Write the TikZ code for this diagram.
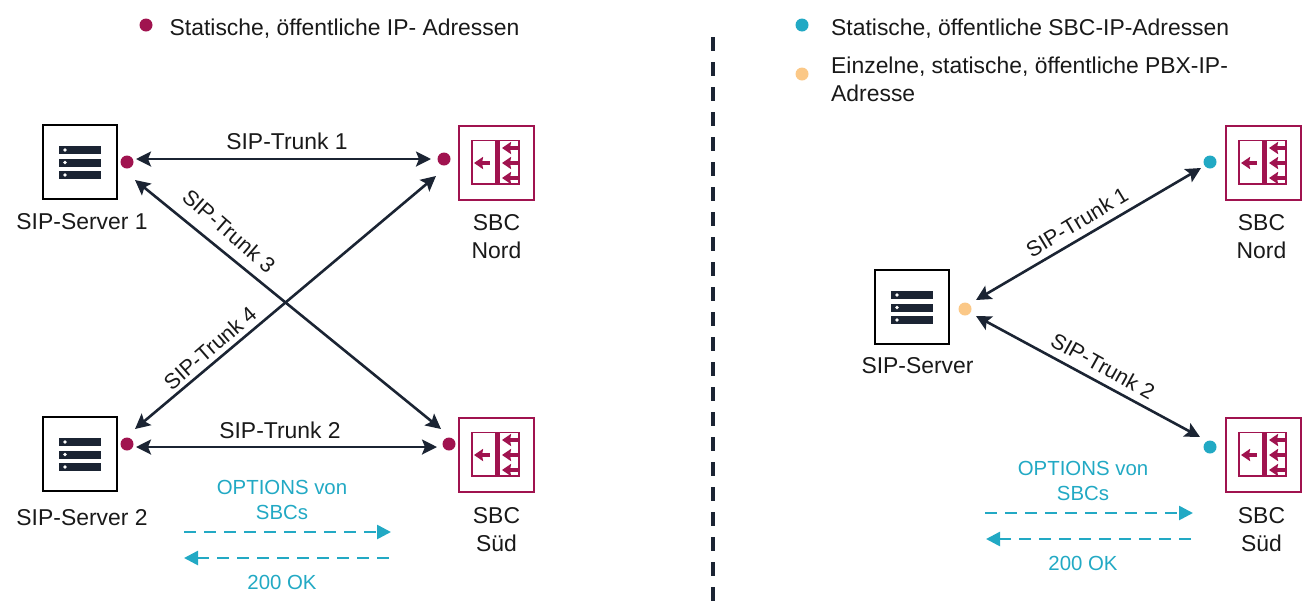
\documentclass[tikz,border=0pt]{standalone}
\usepackage{fontspec}
\setmainfont{Liberation Sans}
\usetikzlibrary{arrows.meta}
\definecolor{navy}{HTML}{1B2433}
\definecolor{wine}{HTML}{A0134F}
\definecolor{teal}{HTML}{22A9C4}
\definecolor{peach}{HTML}{FBC887}
\tikzset{
  x=1pt,y=-1pt,
  lbl/.style={font=\fontsize{22.9}{28}\selectfont,text=black!90,inner sep=0pt,align=center},
  rlbl/.style={lbl,font=\fontsize{21.6}{28}\selectfont},
  note/.style={lbl,font=\fontsize{20.4}{25}\selectfont,text=teal},
  dotw/.style={circle,fill=wine,minimum size=13pt,inner sep=0pt},
  dott/.style={circle,fill=teal,minimum size=13pt,inner sep=0pt},
  dotp/.style={circle,fill=peach,minimum size=13pt,inner sep=0pt},
  trunk/.style={draw=navy,line width=2.6pt,{Stealth[length=15pt,width=15pt,inset=3pt]}-{Stealth[length=15pt,width=15pt,inset=3pt]}},
  opt/.style={draw=teal,line width=2.6pt,dash pattern=on 12pt off 8pt,-{Stealth[length=14pt,width=14pt,inset=0pt]}},
  servericon/.pic={
    \draw[black,line width=2.2pt,fill=white] (0,0) rectangle (74,74);
    \foreach \y in {21,33.5,46}{
      \fill[navy] (16,\y) rectangle (58,\y+8);
      \fill[white] (22,\y+4) circle (1.8);
    }
  },
  sbcicon/.pic={
    \draw[wine,line width=2.4pt,fill=white] (0,0) rectangle (75,74);
    \draw[wine,line width=1.6pt] (13,14.5) rectangle (60,58);
    \fill[wine] (36,14.5) rectangle (40.5,58);
    \foreach \y in {22,37,52}{
      \draw[wine,line width=3.2pt,-{Stealth[length=9pt,width=12pt,inset=1pt]}] (59,\y) -- (43,\y);
    }
    \draw[wine,line width=3.2pt,-{Stealth[length=9pt,width=12pt,inset=1pt]}] (31,37) -- (15,37);
  }
}
\begin{document}
\begin{tikzpicture}
\useasboundingbox (0,0) rectangle (1311,614);
% divider
\coordinate (divA) at (713,37);
\coordinate (divB) at (713,608);
\draw[navy,line width=3.2pt,dash pattern=on 14pt off 11pt] (divA) -- (divB);
% icons
\pic at (43,125) {servericon};
\pic at (43,417) {servericon};
\pic at (875,270) {servericon};
\pic at (459,126) {sbcicon};
\pic at (459,418) {sbcicon};
\pic at (1226,126) {sbcicon};
\pic at (1226,418) {sbcicon};
% dots
\node[dotw] (legL) at (146,25) {};
\node[dott] (legR1) at (802,25) {};
\node[dotp] (legR2) at (802,74) {};
\node[dotw] (s1) at (127,162) {};
\node[dotw] (s2) at (127,444) {};
\node[dotw] (nord) at (444,159) {};
\node[dotw] (sued) at (449,444) {};
\node[dott] (nordR) at (1210,162) {};
\node[dott] (suedR) at (1210,447) {};
\node[dotp] (srv) at (965,309) {};
% legend text
\node[lbl,anchor=west] (tL) at (169.5,28.5) {Statische, öffentliche IP- Adressen};
\node[lbl,anchor=west] (tR1) at (831,28.5) {Statische, öffentliche SBC-IP-Adressen};
\node[lbl,anchor=west,align=left] (tR2) at (831,79) {Einzelne, statische, öffentliche PBX-IP-\\Adresse};
% captions
\node[lbl] (c1) at (82,221.5) {SIP-Server 1};
\node[lbl] (c2) at (82,517.5) {SIP-Server 2};
\node[lbl] (c3) at (917.5,366) {SIP-Server};
\node[lbl] (c4) at (496.5,236.5) {SBC\\Nord};
\node[lbl] (c5) at (496.5,530) {SBC\\Süd};
\node[lbl] (c6) at (1261.5,236.5) {SBC\\Nord};
\node[lbl] (c7) at (1261.5,530) {SBC\\Süd};
% arrow ends
\coordinate (a1) at (136,159); \coordinate (a2) at (431,159);
\coordinate (b1) at (136,447); \coordinate (b2) at (437,447);
\coordinate (d1) at (135,180); \coordinate (d2) at (441,429);
\coordinate (e1) at (135,429); \coordinate (e2) at (436,176);
\coordinate (f1) at (976,300); \coordinate (f2) at (1201,168);
\coordinate (g1) at (976,316); \coordinate (g2) at (1200,437);
\draw[trunk] (a1) -- (a2);
\draw[trunk] (b1) -- (b2);
\draw[trunk] (d1) -- (d2);
\draw[trunk] (e1) -- (e2);
\draw[trunk] (f1) -- (f2);
\draw[trunk] (g1) -- (g2);
% trunk labels
\node[lbl] (t1) at (287,141) {SIP-Trunk 1};
\node[lbl] (t2) at (280,430) {SIP-Trunk 2};
\node[rlbl,rotate=-41] (t3) at (229,231) {SIP-Trunk 3};
\node[rlbl,rotate=41] (t4) at (210,348) {SIP-Trunk 4};
\node[rlbl,rotate=31] (t5) at (1077,222) {SIP-Trunk 1};
\node[rlbl,rotate=-29] (t6) at (1103,366) {SIP-Trunk 2};
% options
\coordinate (h1) at (184,532); \coordinate (h2) at (391,532);
\coordinate (i1) at (389,558); \coordinate (i2) at (184,558);
\coordinate (j1) at (985,513); \coordinate (j2) at (1193,513);
\coordinate (k1) at (1191,539); \coordinate (k2) at (986,539);
\draw[opt] (h1) -- (h2);
\draw[opt] (i1) -- (i2);
\draw[opt] (j1) -- (j2);
\draw[opt] (k1) -- (k2);
\node[note] (n1) at (282,499.5) {OPTIONS von\\SBCs};
\node[note] (n2) at (1083,480.5) {OPTIONS von\\SBCs};
\node[note] (n3) at (282,582) {200 OK};
\node[note] (n4) at (1083,563) {200 OK};
\end{tikzpicture}
\end{document}
